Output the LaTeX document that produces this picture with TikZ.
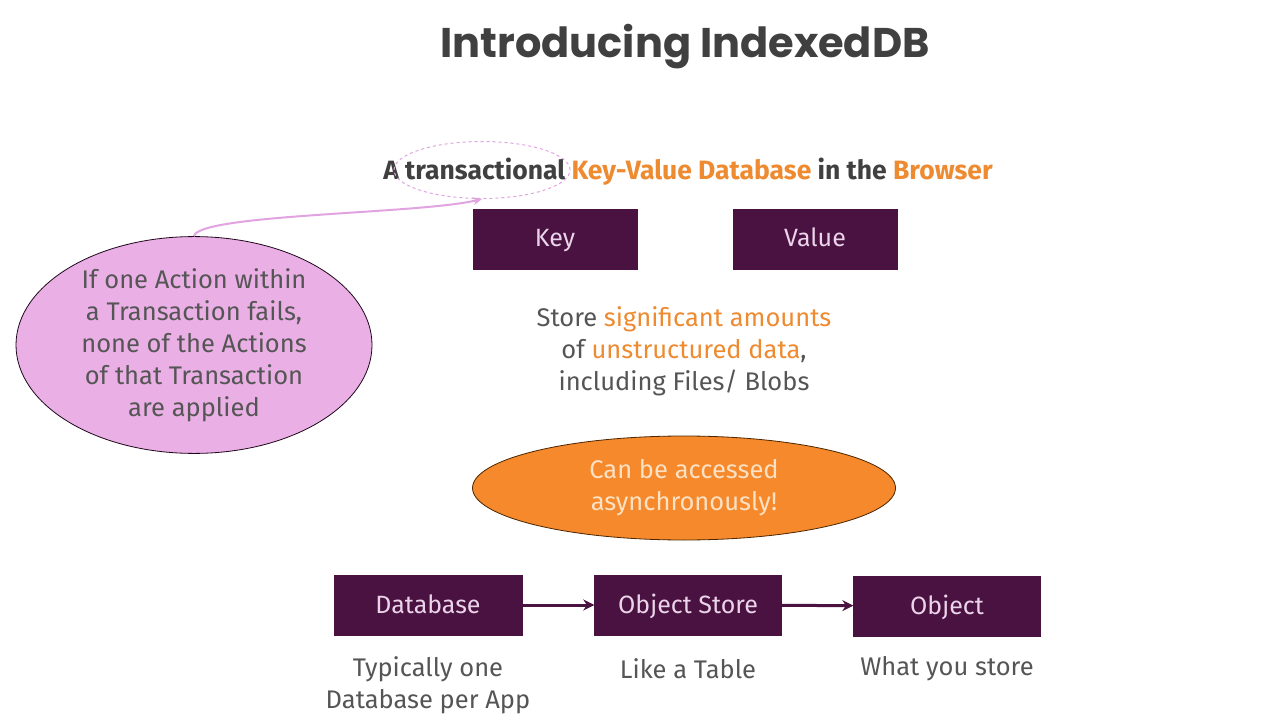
\documentclass[tikz,border=0pt]{standalone}
\usepackage{fontspec}
\setmainfont{Fira Sans}
\newfontfamily\titlefont{Poppins}
\usetikzlibrary{shapes.geometric,arrows.meta}
\definecolor{plum}{HTML}{4A1240}
\definecolor{boxtext}{HTML}{EBD3EA}
\definecolor{bodygray}{HTML}{555555}
\definecolor{accent}{HTML}{EE8A30}
\definecolor{pinkfill}{HTML}{EAB0E6}
\definecolor{pinkline}{HTML}{E2A4E0}
\definecolor{orangefill}{HTML}{F5892B}
\definecolor{orangetext}{HTML}{FCE1C4}
\begin{document}
\begin{tikzpicture}[x=1pt,y=-1pt,
  purplebox/.style={fill=plum,draw=plum,minimum width=#1,minimum height=60pt,inner sep=0pt,
    text=boxtext,font=\fontsize{25}{28}\selectfont,text height=18pt,text depth=2pt},
  purplebox/.default=164pt,
  caption/.style={text=bodygray,font=\fontsize{25.5}{32}\selectfont,align=center,inner sep=0pt},
  flowarrow/.style={plum,line width=3pt,-{Stealth[length=11pt,width=11pt]}}
]
\useasboundingbox (0,0) rectangle (1280,722);
\fill[white] (0,0) rectangle (1280,722);
% title
\node[font=\titlefont\bfseries\fontsize{41.5}{48}\selectfont,text=black!75] (title) at (685,47) {Introducing IndexedDB};
% subtitle
\node[font=\bfseries\fontsize{26.5}{30}\selectfont,text=black!75,anchor=base,inner sep=0pt] (sub) at (688,180)
  {A transactional \textcolor{accent}{Key-Value Database} in the \textcolor{accent}{Browser}};
% dashed ellipse
\node[ellipse,draw=pinkline,dashed,line width=1pt,minimum width=176pt,minimum height=57pt] (trans) at (482,170) {};
% key value boxes
\node[purplebox] (key) at (555,239) {Key};
\node[purplebox] (value) at (815,239) {Value};
% store text
\node[caption] (store) at (684,351) {Store \textcolor{accent}{significant amounts}\\ of \textcolor{accent}{unstructured data},\\ including Files/ Blobs};
% pink ellipse
\node[ellipse,fill=pinkfill,draw=black!60!plum,line width=0.8pt,minimum width=356pt,minimum height=206pt,
  text=bodygray,align=center,font=\fontsize{25.5}{32}\selectfont,inner sep=0pt] (fail) at (194,345)
  {If one Action within\\ a Transaction fails,\\ none of the Actions\\ of that Transaction\\ are applied};
\draw[pinkline,line width=2pt,-{Stealth[length=9pt,width=8pt]}] (fail.north) .. controls (198,214) and (420,214) .. (trans.south);
% orange ellipse
\node[ellipse,fill=orangefill,draw=black!70!orange,line width=0.8pt,minimum width=423pt,minimum height=104pt,
  text=orangetext,align=center,font=\fontsize{25.5}{32}\selectfont,inner sep=0pt] (async) at (684,488)
  {Can be accessed\\ asynchronously!};
% bottom boxes
\node[purplebox=188pt] (db) at (428,605) {Database};
\node[purplebox=187pt] (os) at (688,605) {Object Store};
\node[purplebox=187pt] (obj) at (947,606) {Object};
\draw[flowarrow] (db) -- (os);
\draw[flowarrow] (os) -- (obj);
% captions
\node[caption] (c1) at (428,685) {Typically one\\ Database per App};
\node[caption] (c2) at (688,669) {Like a Table};
\node[caption] (c3) at (947,669) {What you store};
\end{tikzpicture}
\end{document}
